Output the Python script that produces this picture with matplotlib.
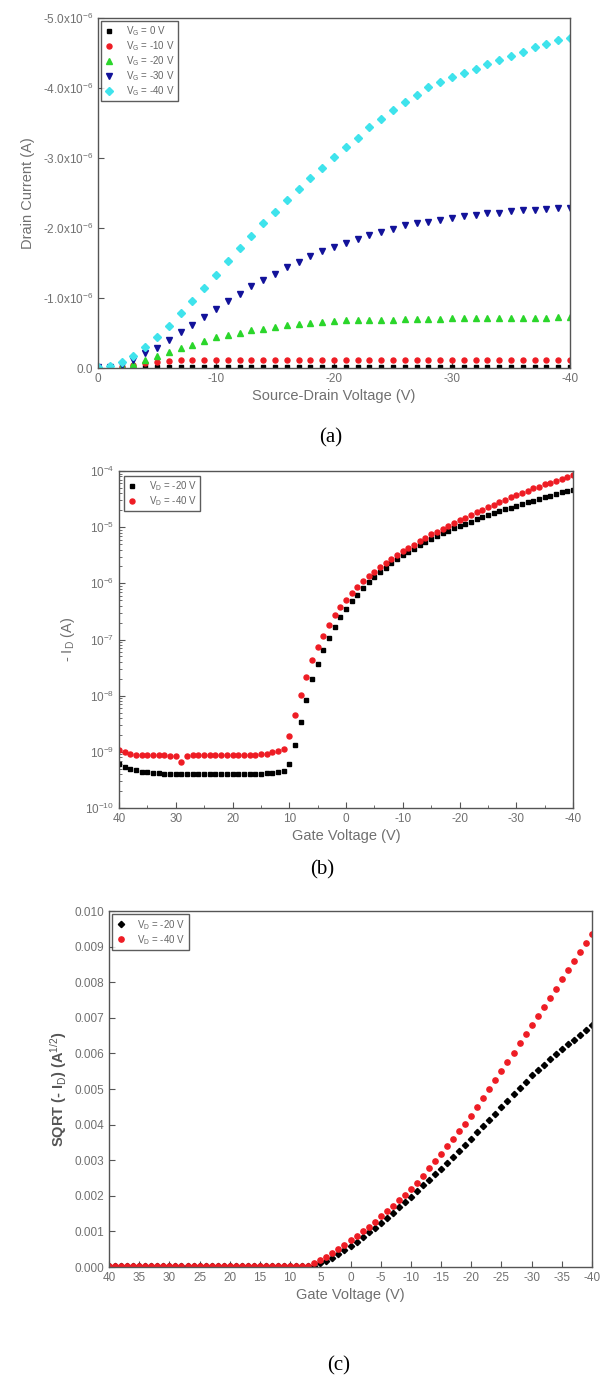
import numpy as np
import matplotlib
matplotlib.use("Agg")
import matplotlib.pyplot as plt
from matplotlib.ticker import FixedLocator, MultipleLocator, LogLocator, NullFormatter

plt.rcParams['font.family'] = ['Liberation Sans', 'DejaVu Sans']
plt.rcParams['mathtext.fontset'] = 'custom'
plt.rcParams['mathtext.rm'] = 'Liberation Sans'
plt.rcParams['mathtext.it'] = 'Liberation Sans'
plt.rcParams['axes.unicode_minus'] = False

# ---- (a) output curves: drain current in uA vs source-drain voltage (0 .. -40 V, 1 V step)
vds = np.arange(0, -41, -1)
out_labels = ['V$_G$ = 0 V', 'V$_G$ = -10 V', 'V$_G$ = -20 V', 'V$_G$ = -30 V', 'V$_G$ = -40 V']
id_vg0 = [0.00, 0.00, 0.01, 0.01, 0.01, 0.01, 0.01, 0.01, 0.01, 0.01,
          0.01, 0.01, 0.01, 0.01, 0.01, 0.01, 0.01, 0.01, 0.01, 0.01,
          0.01, 0.01, 0.01, 0.01, 0.01, 0.01, 0.01, 0.01, 0.01, 0.01,
          0.01, 0.01, 0.01, 0.01, 0.01, 0.01, 0.01, 0.01, 0.01, 0.01, 0.01]
id_vg10 = [0.00, 0.01, 0.02, 0.04, 0.07, 0.09, 0.10, 0.11, 0.11, 0.11,
           0.11, 0.11, 0.11, 0.12, 0.12, 0.12, 0.12, 0.12, 0.12, 0.12,
           0.12, 0.12, 0.12, 0.12, 0.12, 0.12, 0.12, 0.12, 0.12, 0.12,
           0.12, 0.12, 0.12, 0.12, 0.12, 0.12, 0.12, 0.12, 0.12, 0.12, 0.12]
id_vg20 = [0.00, 0.01, 0.03, 0.06, 0.11, 0.17, 0.23, 0.28, 0.33, 0.39,
           0.44, 0.47, 0.50, 0.54, 0.56, 0.59, 0.61, 0.63, 0.65, 0.66,
           0.67, 0.68, 0.68, 0.69, 0.69, 0.69, 0.70, 0.70, 0.70, 0.70,
           0.71, 0.71, 0.71, 0.71, 0.72, 0.72, 0.72, 0.72, 0.72, 0.73, 0.73]
id_vg30 = [0.01, 0.02, 0.04, 0.12, 0.21, 0.29, 0.40, 0.51, 0.61, 0.73,
           0.84, 0.96, 1.06, 1.17, 1.26, 1.35, 1.45, 1.52, 1.60, 1.67,
           1.73, 1.79, 1.85, 1.90, 1.95, 1.99, 2.04, 2.07, 2.09, 2.12,
           2.14, 2.17, 2.18, 2.21, 2.22, 2.24, 2.25, 2.26, 2.27, 2.28, 2.28]
id_vg40 = [0.01, 0.03, 0.08, 0.17, 0.30, 0.45, 0.60, 0.78, 0.96, 1.14,
           1.33, 1.53, 1.71, 1.89, 2.07, 2.23, 2.40, 2.55, 2.71, 2.86,
           3.02, 3.16, 3.29, 3.44, 3.56, 3.69, 3.80, 3.90, 4.01, 4.09,
           4.15, 4.21, 4.27, 4.34, 4.40, 4.46, 4.52, 4.58, 4.63, 4.68, 4.72]

# ---- (b) transfer curves: log10(-Id) vs gate voltage (40 .. -40 V, 1 V step)
vgs = np.arange(40, -41, -1)
tr_labels = ['V$_D$ = -20 V', 'V$_D$ = -40 V']
log_id_vd20 = [-9.21, -9.27, -9.30, -9.33, -9.35, -9.36, -9.37, -9.38, -9.39, -9.39,
               -9.39, -9.40, -9.40, -9.40, -9.40, -9.40, -9.40, -9.40, -9.40, -9.40,
               -9.40, -9.40, -9.40, -9.40, -9.40, -9.39, -9.38, -9.37, -9.36, -9.34,
               -9.21, -8.88, -8.46, -8.07, -7.71, -7.43, -7.18, -6.97, -6.78, -6.60,
               -6.45, -6.31, -6.20, -6.08, -5.98, -5.89, -5.80, -5.72, -5.64, -5.57,
               -5.50, -5.44, -5.38, -5.32, -5.26, -5.21, -5.16, -5.11, -5.06, -5.02,
               -4.98, -4.94, -4.90, -4.86, -4.82, -4.78, -4.75, -4.71, -4.68, -4.65,
               -4.62, -4.59, -4.56, -4.53, -4.50, -4.47, -4.44, -4.41, -4.38, -4.36, -4.33]
log_id_vd40 = [-8.97, -9.00, -9.03, -9.05, -9.06, -9.06, -9.06, -9.06, -9.06, -9.07,
               -9.08, -9.18, -9.07, -9.05, -9.05, -9.05, -9.05, -9.05, -9.05, -9.05,
               -9.05, -9.05, -9.05, -9.05, -9.05, -9.04, -9.03, -9.01, -8.98, -8.94,
               -8.71, -8.35, -7.99, -7.66, -7.37, -7.13, -6.93, -6.74, -6.57, -6.42,
               -6.29, -6.17, -6.07, -5.96, -5.87, -5.79, -5.71, -5.63, -5.56, -5.49,
               -5.43, -5.37, -5.31, -5.25, -5.19, -5.13, -5.08, -5.03, -4.98, -4.93,
               -4.88, -4.83, -4.78, -4.73, -4.69, -4.64, -4.60, -4.56, -4.52, -4.47,
               -4.43, -4.39, -4.35, -4.31, -4.28, -4.24, -4.21, -4.17, -4.14, -4.10, -4.07]

# ---- (c) sqrt(-Id) in units of 1e-3 A^1/2 vs gate voltage (40 .. -40 V)
sq_vd20 = [0.02] * 33 + [
    0.02, 0.03, 0.10, 0.17, 0.25, 0.36, 0.47,
    0.58, 0.70, 0.84, 0.97, 1.10, 1.24, 1.38, 1.53, 1.68, 1.82,
    1.97, 2.13, 2.29, 2.45, 2.60, 2.76, 2.93, 3.10, 3.26, 3.43,
    3.60, 3.78, 3.96, 4.13, 4.31, 4.49, 4.67, 4.85, 5.02, 5.20,
    5.38, 5.53, 5.68, 5.83, 5.98, 6.13, 6.26, 6.39, 6.52, 6.66, 6.79]
sq_vd40 = [0.03] * 33 + [
    0.03, 0.10, 0.19, 0.28, 0.39, 0.50, 0.63,
    0.75, 0.87, 1.00, 1.13, 1.27, 1.42, 1.57, 1.72, 1.87, 2.02,
    2.18, 2.37, 2.57, 2.77, 2.97, 3.18, 3.39, 3.60, 3.81, 4.03,
    4.25, 4.50, 4.75, 5.00, 5.25, 5.51, 5.77, 6.02, 6.28, 6.54,
    6.80, 7.06, 7.31, 7.57, 7.82, 8.08, 8.33, 8.59, 8.84, 9.10, 9.36]

tick_grey = '#707070'
spine_grey = '#555555'


def style_axes(ax):
    for s in ax.spines.values():
        s.set_color(spine_grey)
        s.set_linewidth(1.0)
    ax.tick_params(which='both', direction='in', top=False, right=False,
                   colors=spine_grey, labelcolor=tick_grey, labelsize=8.5)
    ax.tick_params(which='major', length=4)
    ax.tick_params(which='minor', length=2)


def legend(ax, fs=7, pad=0.35):
    lg = ax.legend(loc='upper left', fontsize=fs, frameon=True, fancybox=False,
                   borderaxespad=pad, handletextpad=1.2, labelspacing=0.12,
                   borderpad=0.35, handlelength=1.0)
    lg.get_frame().set_edgecolor('#333333')
    lg.get_frame().set_linewidth(1.0)
    for t in lg.get_texts():
        t.set_color('#666666')


fig = plt.figure(figsize=(6.06, 13.82), dpi=100)

# ---------- (a)
ax = fig.add_axes([0.1617, 0.7337, 0.7789, 0.2533])
scale = -1e-6
series_a = [(id_vg0, 'black', 's', 3.2), (id_vg10, '#ee1c24', 'o', 3.6),
            (id_vg20, '#2bd62b', '^', 4.3), (id_vg30, '#12129a', 'v', 4.6),
            (id_vg40, '#3fe3ec', 'D', 3.8)]
for (vals, c, m, ms), lab in zip(series_a, out_labels):
    ax.plot(vds, np.array(vals) * scale, ls='none', marker=m, ms=ms, color=c,
            mec=c, label=lab)
ax.set_xlim(0, -40)
ax.set_ylim(0, -5e-6)
ax.xaxis.set_major_locator(FixedLocator([0, -10, -20, -30, -40]))
ax.set_xticklabels(['0', '-10', '-20', '-30', '-40'])
yt = [0, -1e-6, -2e-6, -3e-6, -4e-6, -5e-6]
ax.yaxis.set_major_locator(FixedLocator(yt))
ax.set_yticklabels(['0.0'] + [r'-%d.0x10$^{-6}$' % k for k in range(1, 6)])
style_axes(ax)
ax.set_xlabel('Source-Drain Voltage (V)', color=tick_grey, fontsize=10.5, labelpad=3)
ax.set_ylabel('Drain Current (A)', color=tick_grey, fontsize=10.5, labelpad=6)
legend(ax, pad=0.3)
fig.text(0.545, 1 - 438 / 1382, '(a)', family='Liberation Serif', fontsize=15,
         ha='center', va='center')

# ---------- (b)
ax = fig.add_axes([0.1964, 0.4153, 0.7492, 0.2439])
ax.semilogy(vgs, 10 ** np.array(log_id_vd20), ls='none', marker='s', ms=3.4,
            color='black', label=tr_labels[0])
ax.semilogy(vgs, 10 ** np.array(log_id_vd40), ls='none', marker='o', ms=3.6,
            color='#ee1c24', label=tr_labels[1])
ax.set_xlim(40, -40)
ax.set_ylim(1e-10, 1e-4)
ax.xaxis.set_major_locator(MultipleLocator(10))
ax.xaxis.set_minor_locator(MultipleLocator(5))
ax.yaxis.set_major_locator(LogLocator(base=10, numticks=10))
ax.yaxis.set_minor_locator(LogLocator(base=10, subs=np.arange(2, 10), numticks=20))
ax.yaxis.set_minor_formatter(NullFormatter())
style_axes(ax)
ax.set_xlabel('Gate Voltage (V)', color=tick_grey, fontsize=10.5, labelpad=3)
ax.set_ylabel('- I$_D$ (A)', color=tick_grey, fontsize=10.5, labelpad=6)
legend(ax, pad=0.5)
fig.text(0.532, 1 - 870 / 1382, '(b)', family='Liberation Serif', fontsize=15,
         ha='center', va='center')

# ---------- (c)
ax = fig.add_axes([0.1799, 0.0832, 0.7970, 0.2576])
ax.plot(vgs, np.array(sq_vd20) * 1e-3, ls='none', marker='D', ms=3.2,
        color='black', label=tr_labels[0])
ax.plot(vgs, np.array(sq_vd40) * 1e-3, ls='none', marker='o', ms=3.8,
        color='#ee1c24', label=tr_labels[1])
ax.set_xlim(40, -40)
ax.set_ylim(0, 0.010)
ax.xaxis.set_major_locator(MultipleLocator(5))
ax.yaxis.set_major_locator(MultipleLocator(0.001))
ax.yaxis.set_major_formatter(matplotlib.ticker.FormatStrFormatter('%.3f'))
style_axes(ax)
ax.set_xlabel('Gate Voltage (V)', color=tick_grey, fontsize=10.5, labelpad=3)
ax.set_ylabel('SQRT (- I$_D$) (A$^{1/2}$)', color='#555555', fontsize=10.5,
              fontweight='bold', labelpad=4)
legend(ax, pad=0.35)
fig.text(0.558, 1 - 1366 / 1382, '(c)', family='Liberation Serif', fontsize=15,
         ha='center', va='center')

fig.savefig('out.png', dpi=100)
